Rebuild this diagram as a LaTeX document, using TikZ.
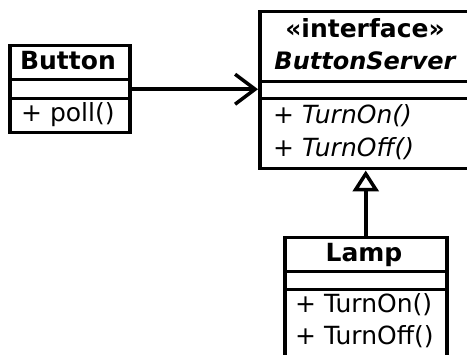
\documentclass[tikz,border=0pt]{standalone}
\usepackage{fontspec}
\setmainfont{DejaVu Sans}
\usetikzlibrary{arrows.meta}
\begin{document}
\begin{tikzpicture}[x=1pt,y=-1pt,
  comp/.style={draw, line width=3.5pt, inner sep=0pt, anchor=north west},
  txt/.style={inner sep=0pt, anchor=base west, font=\fontsize{25}{28}\selectfont},
  itxt/.style={inner sep=0pt, anchor=base west, font=\fontsize{25}{28}\selectfont\itshape},
  ttl/.style={inner sep=0pt, anchor=base, font=\fontsize{25}{28}\selectfont\bfseries},
  ittl/.style={inner sep=0pt, anchor=base, font=\fontsize{24}{28}\selectfont\bfseries\itshape},
  assoc/.style={line width=3.5pt, -{Straight Barb[length=20pt,width=30pt,line width=3.5pt]}},
  gen/.style={line width=3.5pt, -{Triangle[open,length=21pt,width=26pt,line width=3.5pt]}}]
\useasboundingbox (0,0) rectangle (467,355);
\clip (0,0) rectangle (467,355);
% Button
\node[comp, minimum width=120pt, minimum height=34pt] (bname) at (8,44) {};
\node[comp, minimum width=120pt, minimum height=19pt] (battr) at (8,78) {};
\node[comp, minimum width=120pt, minimum height=34pt] (bops) at (8,97) {};
\node[ttl] (tbutton) at (68,70) {Button};
\node[txt] (tpoll) at (21,122) {+ poll()};
% ButtonServer
\node[comp, minimum width=214pt, minimum height=70pt] (sname) at (258,10) {};
\node[comp, minimum width=214pt, minimum height=17pt] (sattr) at (258,80) {};
\node[comp, minimum width=214pt, minimum height=70pt] (sops) at (258,97) {};
\node[ttl] (tinterface) at (365,38) {«interface»};
\node[ittl] (tserver) at (365,70) {ButtonServer};
\node[itxt] (ton1) at (273,124) {+ TurnOn()};
\node[itxt] (toff1) at (273,157) {+ TurnOff()};
% Lamp
\node[comp, minimum width=162pt, minimum height=34pt] (lname) at (283,236) {};
\node[comp, minimum width=162pt, minimum height=18pt] (lattr) at (283,270) {};
\node[comp, minimum width=162pt, minimum height=90pt] (lops) at (283,288) {};
\node[ttl] (tlamp) at (364,262) {Lamp};
\node[txt] (ton2) at (295,313) {+ TurnOn()};
\node[txt] (toff2) at (295,345) {+ TurnOff()};
% connectors
\draw[assoc] (battr.east) -- (battr.east -| sattr.west);
\draw[gen] (lname.north) -- (lname.north |- sops.south);
\end{tikzpicture}
\end{document}
